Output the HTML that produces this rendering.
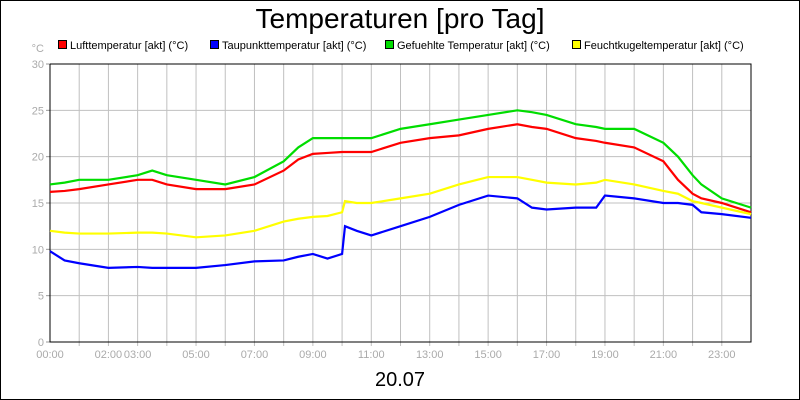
<!DOCTYPE html>
<html><head><meta charset="utf-8"><style>body{margin:0;background:#fff}svg{display:block;font-family:"Liberation Sans",sans-serif}</style></head>
<body>
<svg id="c" width="800" height="400">
<rect x="0.5" y="0.5" width="799" height="399" fill="#fff" stroke="#000"/>
<text x="400" y="28" font-size="28" text-anchor="middle">Temperaturen [pro Tag]</text>
<text x="400" y="386" font-size="20" text-anchor="middle">20.07</text>
<text x="44" y="52" font-size="11" fill="#aaa" text-anchor="end">°C</text>
<g id="grid"></g><g id="series"></g><g id="legend"></g>
</svg>
<script>
const hours=[0,0.5,1,2,3,3.5,4,5,6,7,8,8.5,9,9.5,10,10.1,10.5,11,12,13,14,15,16,16.5,17,18,18.7,19,20,21,21.5,22,22.3,23,24];
const luft=[16.2,16.3,16.5,17,17.5,17.5,17,16.5,16.5,17,18.5,19.7,20.3,20.4,20.5,20.5,20.5,20.5,21.5,22,22.3,23,23.5,23.2,23,22,21.7,21.5,21,19.5,17.5,16,15.5,15,14];
const tau=[9.8,8.8,8.5,8,8.1,8,8,8,8.3,8.7,8.8,9.2,9.5,9,9.5,12.5,12,11.5,12.5,13.5,14.8,15.8,15.5,14.5,14.3,14.5,14.5,15.8,15.5,15,15,14.8,14,13.8,13.4];
const gef=[17,17.2,17.5,17.5,18,18.5,18,17.5,17,17.8,19.5,21,22,22,22,22,22,22,23,23.5,24,24.5,25,24.8,24.5,23.5,23.2,23,23,21.5,20,18,17,15.5,14.5];
const feucht=[12,11.8,11.7,11.7,11.8,11.8,11.7,11.3,11.5,12,13,13.3,13.5,13.6,14,15.2,15,15,15.5,16,17,17.8,17.8,17.5,17.2,17,17.2,17.5,17,16.3,16,15.2,15,14.5,13.8];
const yTicks=[0,5,10,15,20,25,30];
const xLabels=["00:00","02:00","03:00","05:00","07:00","09:00","11:00","13:00","15:00","17:00","19:00","21:00","23:00"];
const xLabelHours=[0,2,3,5,7,9,11,13,15,17,19,21,23];
const names=["Lufttemperatur [akt] (°C)","Taupunkttemperatur [akt] (°C)","Gefuehlte Temperatur [akt] (°C)","Feuchtkugeltemperatur [akt] (°C)"];
const colors=["#f00","#00f","#0d0","#ff0"];
const X0=50,X1=751,Y0=342,Y1=64;
const xs=h=>X0+(X1-X0)*h/24, ys=v=>Y0-(Y0-Y1)*v/30;
const NS="http://www.w3.org/2000/svg";
function mk(t,a,p){const e=document.createElementNS(NS,t);for(const k in a)e.setAttribute(k,a[k]);p.appendChild(e);return e;}
const g=document.getElementById('grid');
for(let h=1;h<24;h++){const l=mk('line',{x1:xs(h),x2:xs(h),y1:Y1,y2:Y0+4,stroke:'#c0c0c0'},g);

}
yTicks.forEach(v=>{if(v>0&&v<30){const l=mk('line',{x1:X0,x2:X1,y1:ys(v),y2:ys(v),stroke:'#c0c0c0'},g);

}
mk('line',{x1:X0-4,x2:X0,y1:ys(v),y2:ys(v),stroke:'#999'},g);
const t=mk('text',{x:X0-6,y:ys(v)+4,'font-size':11,fill:'#aaa','text-anchor':'end'},g);t.textContent=v;

});
xLabels.forEach((s,i)=>{const t=mk('text',{x:xs(xLabelHours[i]),y:Y0+16,'font-size':11,fill:'#aaa','text-anchor':'middle'},g);t.textContent=s;

});
const ax=mk('path',{d:`M${X0},${Y1}V${Y0}H${X1}V${Y1}H${X0}`,fill:'none',stroke:'#000'},g);


const sg=document.getElementById('series');
[gef,luft,feucht,tau].forEach((d,k)=>{const ci=[2,0,3,1][k];
const p=mk('polyline',{points:d.map((v,i)=>xs(hours[i])+','+ys(v)).join(' '),fill:'none',stroke:colors[ci],'stroke-width':2.2},sg);

});
const lg=document.getElementById('legend');const lx=[58,210,385,572];
names.forEach((n,i)=>{const r=mk('rect',{x:lx[i]+0.5,y:40.5,width:8,height:8,fill:colors[i],stroke:'#000'},lg);


const t=mk('text',{x:lx[i]+12,y:49,'font-size':11},lg);t.textContent=n;

});
</script>
</body></html>
